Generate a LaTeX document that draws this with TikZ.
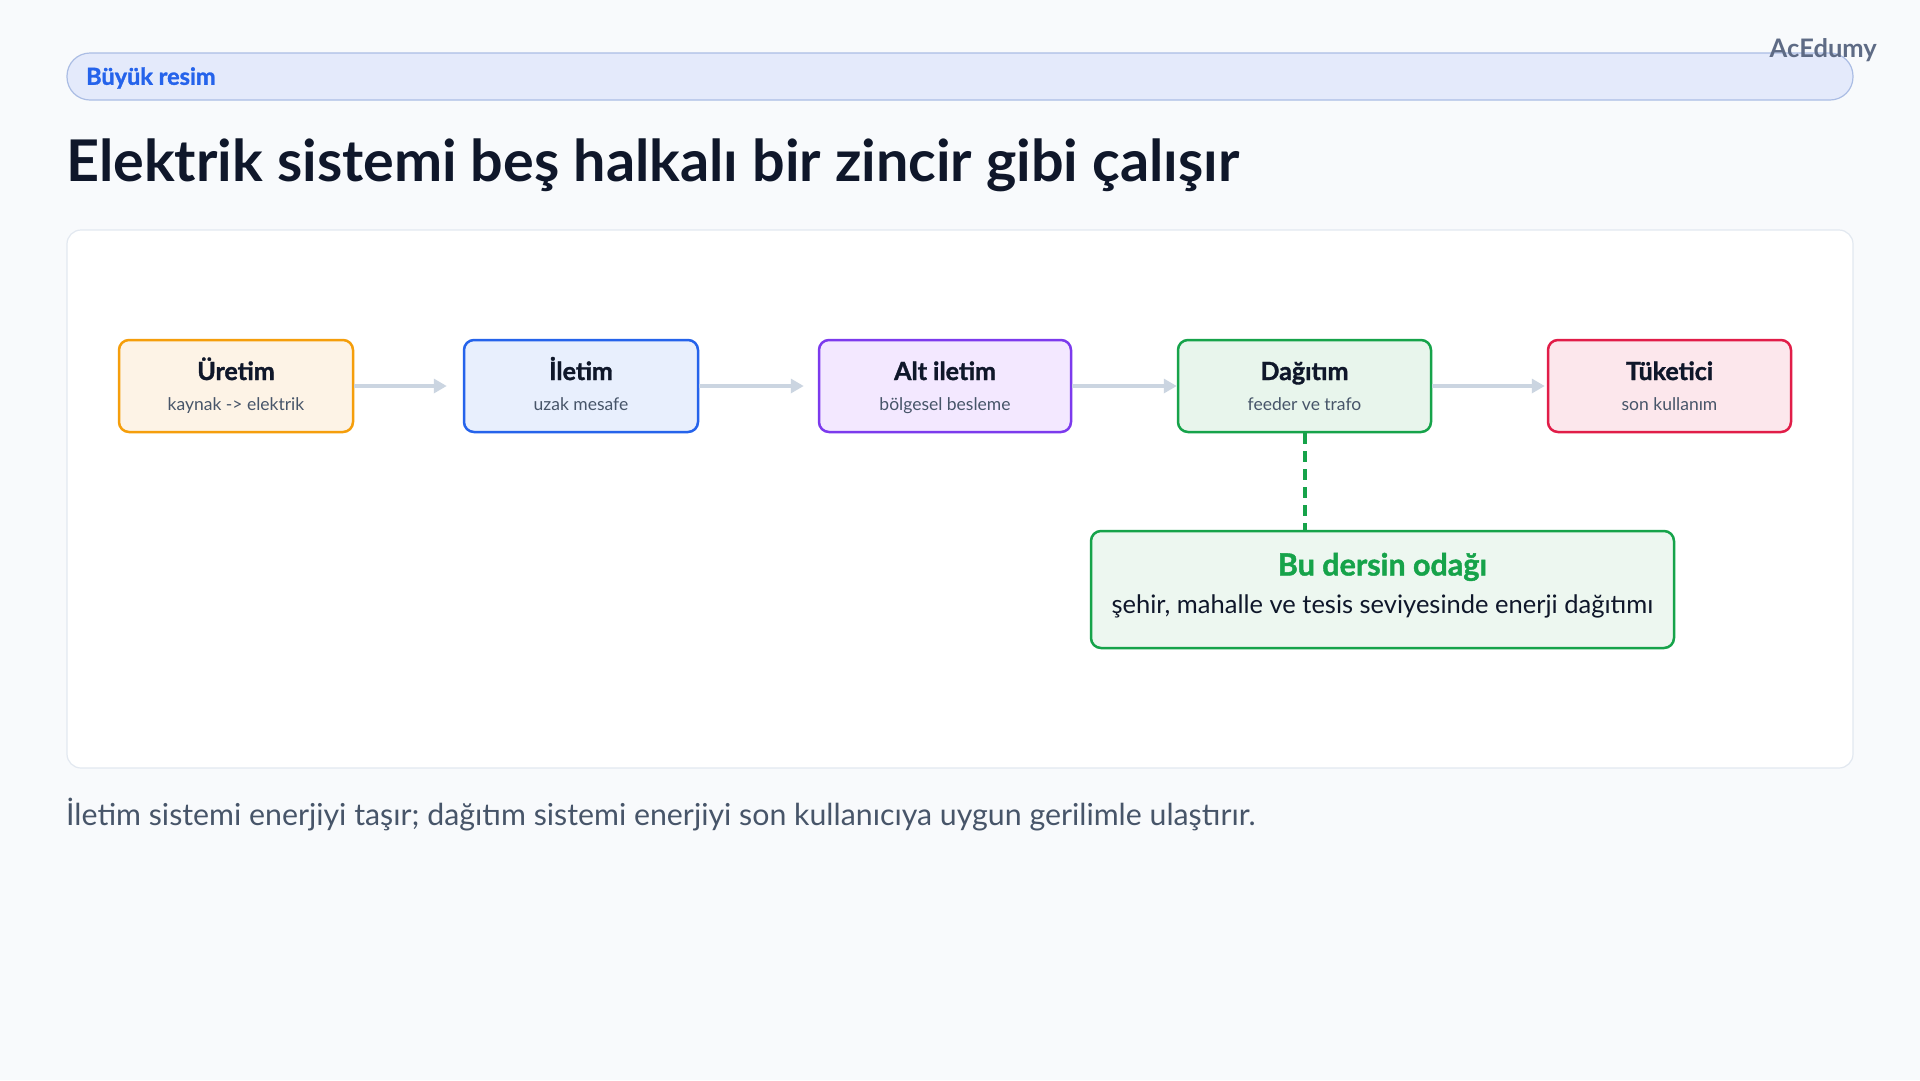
\documentclass[tikz,border=0pt]{standalone}
\usepackage{fontspec}
\setmainfont{Lato}
\newfontfamily\heavyfont{Lato}[BoldFeatures={FakeBold=1.4}]
\usetikzlibrary{arrows.meta,positioning}

\definecolor{pagebg}{HTML}{F8FAFC}
\definecolor{pillfill}{HTML}{E4EAFB}
\definecolor{pillline}{HTML}{ABBDE4}
\definecolor{pilltext}{HTML}{2563EB}
\definecolor{brandgray}{HTML}{5E6B85}
\definecolor{titleink}{HTML}{0F172A}
\definecolor{panelline}{HTML}{E2E8F0}
\definecolor{subink}{HTML}{475569}
\definecolor{flowgray}{HTML}{CBD5E1}
\definecolor{orangeline}{HTML}{F59E0B}
\definecolor{orangefill}{HTML}{FDF3E6}
\definecolor{blueline}{HTML}{2563EB}
\definecolor{bluefill}{HTML}{E8EFFD}
\definecolor{purpleline}{HTML}{7C3AED}
\definecolor{purplefill}{HTML}{F3E8FF}
\definecolor{greenline}{HTML}{16A34A}
\definecolor{greenfill}{HTML}{E8F5EC}
\definecolor{redline}{HTML}{E11D48}
\definecolor{redfill}{HTML}{FCE7EC}

\tikzset{
  stage/.style={draw, line width=2.5pt, rounded corners=10pt, minimum width=#1,
    minimum height=92pt, inner sep=0pt},
  stagetitle/.style={anchor=base, text=titleink, font=\heavyfont\fontsize{25}{28}\selectfont\bfseries},
  stagesub/.style={anchor=base, text=subink, font=\fontsize{17.5}{20}\selectfont},
  flow/.style={flowgray, line width=3.6pt, -{Triangle[length=13pt,width=14pt]}},
  focuslink/.style={greenline, line width=4pt, dash pattern=on 11pt off 7pt},
}

\begin{document}
\begin{tikzpicture}[x=1pt,y=-1pt]

	\fill[pagebg] (0,0) rectangle (1920,1080);
	\useasboundingbox (0,0) rectangle (1920,1080);

	% header
	\node[draw=pillline, fill=pillfill, line width=1.2pt, rounded corners=23pt,
	  minimum width=1786pt, minimum height=47pt, inner sep=0pt] (pill) at (960,76.5) {};
	\node[anchor=west, text=pilltext, font=\heavyfont\fontsize{23.5}{26}\selectfont\bfseries,
	  inner sep=0pt] (pilllabel) at (86,78) {Büyük resim};
	\node[anchor=east, text=brandgray, font=\fontsize{25.5}{28}\selectfont\bfseries,
	  inner sep=0pt] (brand) at (1877,50) {AcEdumy};
	\node[anchor=west, text=titleink, font=\fontsize{57.5}{64}\selectfont\bfseries,
	  inner sep=0pt] (title) at (66,165) {Elektrik sistemi beş halkalı bir zincir gibi çalışır};

	% panel
	\node[draw=panelline, fill=white, line width=1.2pt, rounded corners=14pt,
	  minimum width=1786pt, minimum height=538pt, inner sep=0pt] (panel) at (960,499) {};

	% chain
	\node[stage=234pt, draw=orangeline, fill=orangefill] (uretim) at (236,386) {};
	\node[stage=234pt, draw=blueline, fill=bluefill] (iletim) at (581,386) {};
	\node[stage=252pt, draw=purpleline, fill=purplefill] (altiletim) at (945,386) {};
	\node[stage=253pt, draw=greenline, fill=greenfill] (dagitim) at (1304.5,386) {};
	\node[stage=243pt, draw=redline, fill=redfill] (tuketici) at (1669.5,386) {};

	\node[stagetitle] (uretimT) at ([yshift=6pt]uretim.center) {Üretim};
	\node[stagesub] (uretimS) at ([yshift=-24pt]uretim.center) {kaynak -> elektrik};
	\node[stagetitle] (iletimT) at ([yshift=6pt]iletim.center) {İletim};
	\node[stagesub] (iletimS) at ([yshift=-24pt]iletim.center) {uzak mesafe};
	\node[stagetitle] (altiletimT) at ([yshift=6pt]altiletim.center) {Alt iletim};
	\node[stagesub] (altiletimS) at ([yshift=-24pt]altiletim.center) {bölgesel besleme};
	\node[stagetitle] (dagitimT) at ([yshift=6pt]dagitim.center) {Dağıtım};
	\node[stagesub] (dagitimS) at ([yshift=-24pt]dagitim.center) {feeder ve trafo};
	\node[stagetitle] (tuketiciT) at ([yshift=6pt]tuketici.center) {Tüketici};
	\node[stagesub] (tuketiciS) at ([yshift=-24pt]tuketici.center) {son kullanım};

	\draw[flow, shorten >=16pt] (uretim) -- (iletim);
	\draw[flow, shorten >=14pt] (iletim) -- (altiletim);
	\draw[flow] (altiletim) -- (dagitim);
	\draw[flow, shorten >=2pt] (dagitim) -- (tuketici);

	% focus
	\node[stage=583pt, minimum height=117pt, draw=greenline, fill=greenfill!80!white] (focus) at (1382.5,589.5) {};
	\node[anchor=base, text=greenline, font=\heavyfont\fontsize{30.5}{34}\selectfont\bfseries] (focusT) at ([yshift=14pt]focus.center) {Bu dersin odağı};
	\node[anchor=base, text=titleink, font=\fontsize{25.5}{29}\selectfont] (focusS) at ([yshift=-24pt]focus.center) {şehir, mahalle ve tesis seviyesinde enerji dağıtımı};
	\draw[focuslink] (dagitim.south) -- (dagitim.south |- focus.north);

	% footer
	\node[anchor=west, text=subink, font=\fontsize{30.3}{34}\selectfont, inner sep=0pt] (footer) at (66,815)
	  {İletim sistemi enerjiyi taşır; dağıtım sistemi enerjiyi son kullanıcıya uygun gerilimle ulaştırır.};

\end{tikzpicture}
\end{document}
